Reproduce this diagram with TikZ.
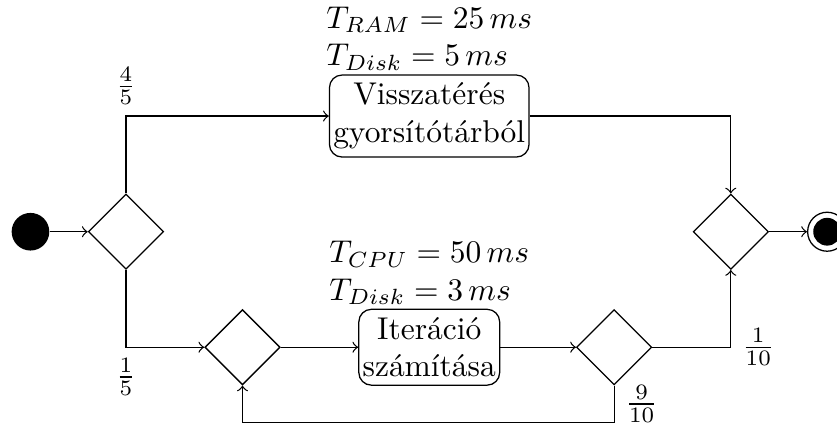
\documentclass[tikz,border=0pt]{standalone}
\usepackage{amsmath}
\usetikzlibrary{positioning,shapes.geometric}

\begin{document}
\begin{tikzpicture}
[
    startnode/.style={circle, fill=black, minimum size=0.42cm, inner sep=0pt},
    stopring/.style={circle, draw, minimum size=0.435cm, inner sep=0pt},
    stopdot/.style={circle, fill=black, minimum size=0.31cm, inner sep=0pt},
    choice/.style={diamond, draw, minimum width=0.84cm, minimum height=0.84cm, inner sep=0pt},
    action/.style={rectangle, draw, rounded corners=4pt, align=center, inner xsep=1.2pt, inner ysep=2.5pt},
    costs/.style={align=left, inner sep=1pt},
]
\useasboundingbox (0,0) rectangle (9.34,4.74);

% nodes
\node [startnode] (start) at (0.34,2.154) {};
\node [choice] (d1) at (1.406,2.154) {};
\node [action] (cache) at (4.79,3.445) {Visszatérés\\gyorsítótárból};
\node [costs, above=0pt of cache] (cachecost) {$T_{RAM} = 25\,ms$\\$T_{Disk} = 5\,ms$};
\node [choice] (d4) at (8.155,2.154) {};
\node [stopring] (stop) at (9.23,2.154) {};
\node [stopdot] (stopin) at (stop) {};
\node [choice] (d2) at (2.706,0.865) {};
\node [action] (calc) at (4.79,0.865) {Iteráció\\számítása};
\node [costs, above=0pt of calc] (calccost) {$T_{CPU} = 50\,ms$\\$T_{Disk} = 3\,ms$};
\node [choice] (d3) at (6.854,0.865) {};
\coordinate (loop) at (0,0.026);

% connectors
\draw [->] (start) -- (d1);
\draw [->] (d1.north) |- node[above] {$\frac{4}{5}$} (cache.west);
\draw [->] (cache.east) -| (d4.north);
\draw [->] (d1.south) |- node[below] {$\frac{1}{5}$} (d2.west);
\draw [->] (d2) -- (calc);
\draw [->] (calc) -- (d3);
\draw [->] (d3.east) -| node[right] {$\frac{1}{10}$} (d4.south);
\draw [->] (d3.south) -- node[right] {$\frac{9}{10}$} (d3.south |- loop) -| (d2.south);
\draw [->] (d4) -- (stop);
\end{tikzpicture}
\end{document}
